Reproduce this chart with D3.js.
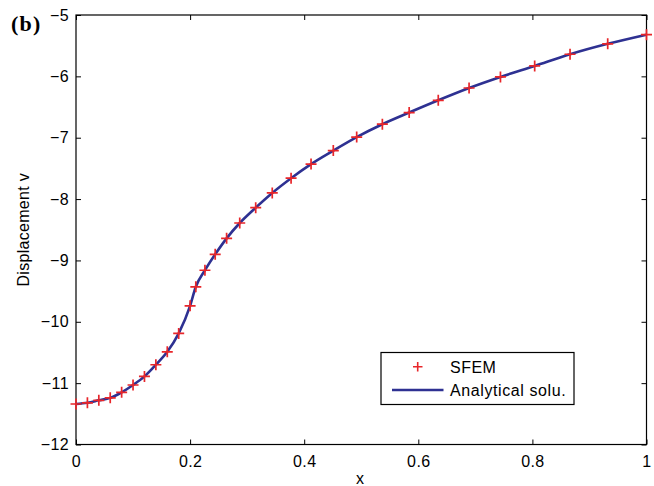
<!DOCTYPE html>
<html><head><meta charset="utf-8">
<script src="https://cdn.jsdelivr.net/npm/d3@7"></script>
<style>body{margin:0;background:#fff}svg{display:block}text{font-family:"Liberation Sans",Arial,sans-serif}</style>
</head><body>
<script>
const xTicks=[0,0.2,0.4,0.6,0.8,1];
const yTicks=[-5,-6,-7,-8,-9,-10,-11,-12];
const sfemX=[0,0.02,0.04,0.06,0.08,0.10,0.12,0.14,0.16,0.18,0.20,0.21,0.226,0.244,0.264,0.287,0.315,0.344,0.377,0.412,0.451,0.492,0.537,0.584,0.635,0.689,0.744,0.804,0.866,0.932,1.0];
const sfemY=[-11.34,-11.32,-11.28,-11.24,-11.15,-11.03,-10.89,-10.70,-10.49,-10.19,-9.74,-9.43,-9.16,-8.90,-8.64,-8.39,-8.14,-7.90,-7.66,-7.43,-7.21,-6.99,-6.78,-6.59,-6.39,-6.19,-6.01,-5.83,-5.64,-5.47,-5.32];
const anaX=sfemX.slice();
const anaY=sfemY.slice();

const W=654,H=486,L=76,T=15,R=646.5,B=444.5;
const svg=d3.select("body").append("svg").attr("width",W).attr("height",H);
const x=d3.scaleLinear().domain([0,1]).range([L,R]);
const y=d3.scaleLinear().domain([-12,-5]).range([B,T]);
const fmt=d=>String(d).replace("-","\u2212");
const tl=5;
svg.append("g").attr("transform",`translate(0,${B})`).call(d3.axisBottom(x).tickValues(xTicks).tickSize(-tl).tickPadding(11).tickFormat(d=>d===0||d===1?String(d):d3.format(".1f")(d)));
svg.append("g").attr("transform",`translate(${L},0)`).call(d3.axisLeft(y).tickValues(yTicks).tickSize(-tl).tickPadding(7).tickFormat(fmt));
svg.append("g").attr("transform",`translate(0,${T})`).call(d3.axisTop(x).tickValues(xTicks).tickSize(-tl).tickFormat(""));
svg.append("g").attr("transform",`translate(${R},0)`).call(d3.axisRight(y).tickValues(yTicks).tickSize(-tl).tickFormat(""));
svg.selectAll(".domain").remove();
svg.selectAll(".tick line").attr("stroke","#000").attr("stroke-width",1);
svg.selectAll(".tick text").attr("font-size",16).attr("fill","#000").attr("letter-spacing",0.4).attr("font-family","Liberation Sans, Arial, sans-serif");
svg.append("rect").attr("x",L).attr("y",T).attr("width",R-L).attr("height",B-T).attr("fill","none").attr("stroke","#000").attr("stroke-width",1.2);
svg.append("text").attr("x",360).attr("y",484).attr("text-anchor","middle").attr("font-size",16).text("x");
svg.append("text").attr("transform",`translate(28.5,${(T+B)/2}) rotate(-90)`).attr("text-anchor","middle").attr("font-size",16).attr("letter-spacing",0.3).text("Displacement v");
svg.append("text").attr("x",11).attr("y",31).attr("font-size",22).attr("font-weight","bold").attr("letter-spacing",1.2).style("font-family","Liberation Serif, 'Times New Roman', serif").text("(b)");
const ana=anaX.map((v,i)=>[v,anaY[i]]);
svg.append("path").datum(ana).attr("fill","none").attr("stroke","#2e3192").attr("stroke-width",2.6)
 .attr("d",d3.line().x(d=>x(d[0])).y(d=>y(d[1])).curve(d3.curveMonotoneX));
const ms=5.5;
const pts=sfemX.map((v,i)=>[v,sfemY[i]]);
svg.append("g").selectAll("path").data(pts).join("path")
 .attr("d",d=>{const cx=x(d[0]),cy=y(d[1]);return `M${cx-ms},${cy}H${cx+ms}M${cx},${cy-ms}V${cy+ms}`;})
 .attr("stroke","#e8262a").attr("stroke-width",1.7).attr("fill","none");
const lg=svg.append("g");
lg.append("rect").attr("x",381).attr("y",352.5).attr("width",193).attr("height",52).attr("fill","#fff").attr("stroke","#000").attr("stroke-width",1.2);
lg.append("path").attr("d","M413,366.7H422.5M417.7,362V371.5").attr("stroke","#e8262a").attr("stroke-width",1.6);
lg.append("line").attr("x1",392).attr("x2",443.5).attr("y1",390).attr("y2",390).attr("stroke","#2e3192").attr("stroke-width",2.6);
lg.append("text").attr("x",450).attr("y",373).attr("font-size",16).attr("letter-spacing",0.5).text("SFEM");
lg.append("text").attr("x",450).attr("y",395.5).attr("font-size",16).attr("letter-spacing",0.6).text("Analytical solu.");
</script>
</body></html>
